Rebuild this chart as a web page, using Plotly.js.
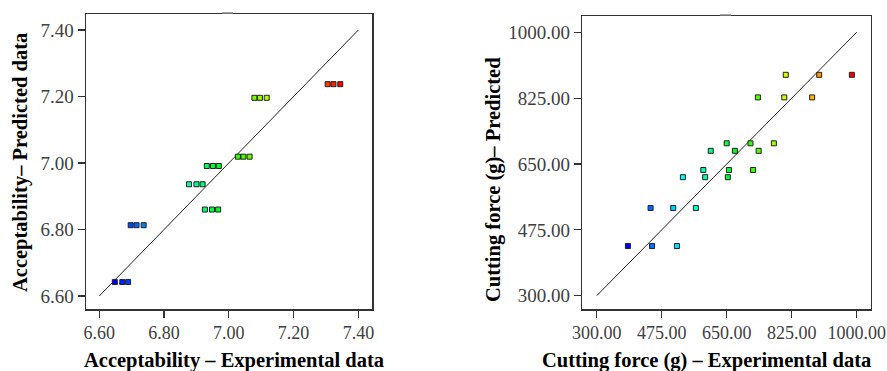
<!DOCTYPE html>
<html>
<head>
<meta charset="utf-8">
<script src="https://cdn.plot.ly/plotly-3.0.1.min.js"></script>
<style>html,body{margin:0;padding:0;background:#fff}#chart{width:887px;height:371px}</style>
</head>
<body>
<div id="chart"></div>
<script>
// Left panel: Acceptability
const accExp = [7.305, 7.323, 7.344, 7.079, 7.096, 7.117, 7.028, 7.045, 7.064, 6.932, 6.951, 6.969,
                6.877, 6.900, 6.919, 6.926, 6.948, 6.967, 6.697, 6.715, 6.737, 6.648, 6.671, 6.689];
const accPred = [7.237, 7.237, 7.237, 7.196, 7.196, 7.196, 7.019, 7.019, 7.019, 6.991, 6.991, 6.991,
                 6.936, 6.936, 6.936, 6.860, 6.860, 6.860, 6.813, 6.813, 6.813, 6.642, 6.642, 6.642];
const accLine = [6.6, 7.4];
const accTicks = [6.6, 6.8, 7.0, 7.2, 7.4];
const accTickText = ["6.60", "6.80", "7.00", "7.20", "7.40"];

// Right panel: Cutting force
const cfExp = [809, 899, 987, 734, 805, 880, 650, 714, 777, 607, 672, 736,
               587, 656, 721, 532, 592, 653, 445, 506, 567, 384, 449, 516];
const cfPred = [887, 887, 887, 827, 827, 827, 705, 705, 705, 685, 685, 685,
                634, 634, 634, 615, 615, 615, 533, 533, 533, 432, 432, 432];
const cfLine = [300, 1000];
const cfTicks = [300, 475, 650, 825, 1000];
const cfTickText = ["300.00", "475.00", "650.00", "825.00", "1000.00"];

const cscale = [[0, '#0000ff'], [0.25, '#00ffff'], [0.5, '#00ff00'], [0.75, '#ffff00'], [1, '#ff0000']];
const W = 887, H = 371;

function mk(x, y, xa, ya) {
  return {
    x: x, y: y, xaxis: xa, yaxis: ya, type: 'scatter', mode: 'markers', showlegend: false,
    marker: {symbol: 'square', size: 5, color: x, colorscale: cscale,
             cmin: Math.min(...x), cmax: Math.max(...x),
             line: {color: '#222', width: 1}}
  };
}
function ln(v, xa, ya) {
  return {x: v, y: v, xaxis: xa, yaxis: ya, type: 'scatter', mode: 'lines', showlegend: false,
          line: {color: '#222', width: 1}};
}

const yTickFont = {family: 'Liberation Serif, serif', size: 19, color: '#404040'};
const xTickFont = {family: 'Liberation Serif, serif', size: 18, color: '#404040'};
const titleFont = {family: 'Liberation Serif, serif', size: 20.5, color: '#000'};

function ax(dom, range, vals, txt, anchor, font) {
  return {
    domain: dom, range: range, anchor: anchor, tickmode: 'array', tickvals: vals, ticktext: txt,
    ticks: 'outside', ticklen: 7, tickwidth: 1.2, tickcolor: '#333',
    showline: true, mirror: true, linecolor: '#333', linewidth: 1.5,
    showgrid: false, zeroline: false, tickfont: font, automargin: false
  };
}

const layout = {
  width: W, height: H, margin: {l: 0, r: 0, t: 0, b: 0},
  paper_bgcolor: '#fff', plot_bgcolor: '#fff',
  xaxis: ax([86 / W, 372 / W], [6.559, 7.442], accTicks, accTickText, 'y', xTickFont),
  yaxis: ax([1 - 309 / H, 1 - 14 / H], [6.561, 7.448], accTicks, accTickText, 'x', yTickFont),
  xaxis2: ax([582.3 / W, 870.7 / W], [261.2, 1037.7], cfTicks, cfTickText, 'y2', xTickFont),
  yaxis2: ax([1 - 309.3 / H, 1 - 16 / H], [263.9, 1043.3], cfTicks, cfTickText, 'x2', yTickFont),
  annotations: [
    {text: '<b>Acceptability – Experimental data</b>', xref: 'paper', yref: 'paper',
     x: 233.5 / W, y: 1 - 360 / H, showarrow: false, font: titleFont, xanchor: 'center', yanchor: 'middle'},
    {text: '<b>Acceptability– Predicted data</b>', xref: 'paper', yref: 'paper',
     x: 20 / W, y: 1 - 163 / H, showarrow: false, font: titleFont, textangle: -90, xanchor: 'center', yanchor: 'middle'},
    {text: '<b>Cutting force (g) – Experimental data</b>', xref: 'paper', yref: 'paper',
     x: 706 / W, y: 1 - 360 / H, showarrow: false, font: titleFont, xanchor: 'center', yanchor: 'middle'},
    {text: '<b>Cutting force (g)– Predicted</b>', xref: 'paper', yref: 'paper',
     x: 493 / W, y: 1 - 180 / H, showarrow: false, font: titleFont, textangle: -90, xanchor: 'center', yanchor: 'middle'}
  ],
  shapes: [
    {type: 'line', xref: 'paper', yref: 'paper', x0: 222 / W, x1: 233 / W, y0: 1 - 13 / H, y1: 1 - 13 / H,
     line: {color: '#888', width: 1.5}},
    {type: 'line', xref: 'paper', yref: 'paper', x0: 720 / W, x1: 731 / W, y0: 1 - 15 / H, y1: 1 - 15 / H,
     line: {color: '#888', width: 1.5}}
  ]
};

const data = [
  ln(accLine, 'x', 'y'), mk(accExp, accPred, 'x', 'y'),
  ln(cfLine, 'x2', 'y2'), mk(cfExp, cfPred, 'x2', 'y2')
];
Plotly.newPlot('chart', data, layout, {displayModeBar: false, staticPlot: true});
</script>
</body>
</html>
